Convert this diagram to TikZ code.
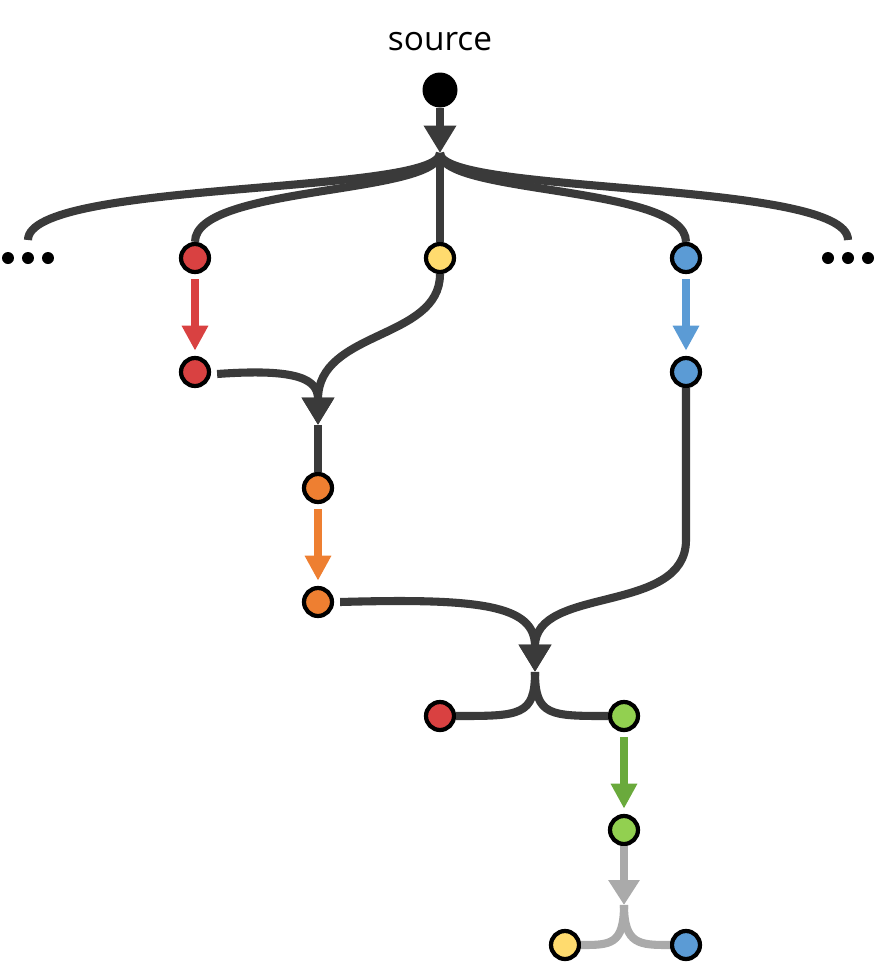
\documentclass[tikz,border=0pt]{standalone}
\usepackage{fontspec}
\setmainfont{Open Sans}
\usetikzlibrary{positioning, arrows.meta}
\definecolor{edgegray}{HTML}{3A3A3A}
\definecolor{cred}{HTML}{D94141}
\definecolor{cyellow}{HTML}{FFDB6E}
\definecolor{cblue}{HTML}{5B9BD5}
\definecolor{corange}{HTML}{EE7F31}
\definecolor{cgreen}{HTML}{92D050}
\definecolor{dgreen}{HTML}{6AAA3C}
\definecolor{lgray}{HTML}{AAAAAA}
\begin{document}
\begin{tikzpicture}[x=0.02cm, y=-0.02cm]
	\tikzstyle{commit} = [ draw=black, circle, line width=2.4pt, minimum size=0.56cm, inner sep=0pt ];
	\tikzstyle{link} = [ draw=edgegray, line width=4.6pt ];
	\tikzstyle{merge} = [ link, -{Triangle[length=0.55cm, width=0.62cm]} ];
	\tikzstyle{step} = [];
	\tikzstyle{pick} = [ line width=4.6pt, -{Triangle[length=0.5cm, width=0.5cm]}, shorten <=3pt, shorten >=3pt ];

	\useasboundingbox (0,0) rectangle (877,964);

	\node[font=\fontsize{19}{22}\selectfont] (label) at (440,42) {source};
	\node[circle, fill=black, minimum size=0.7cm, inner sep=0pt] (src) at (440,90) {};

	% first row
	\node[commit, fill=cred] (r1) at (195,258) {};
	\node[commit, fill=cyellow] (y1) at (440,258) {};
	\node[commit, fill=cblue] (b1) at (686,258) {};
	\coordinate (dl) at (28,240);
	\coordinate (dr) at (848,240);
	\foreach \dx in {-20,0,20} {
		\fill (28+\dx,258) circle (0.12cm);
		\fill (848+\dx,258) circle (0.12cm);
	}

	\node[commit, fill=cred] (r2) at (195,372) {};
	\node[commit, fill=cblue] (b2) at (686,372) {};
	\node[commit, fill=corange] (o1) at (318,488) {};
	\node[commit, fill=corange] (o2) at (318,602) {};
	\node[commit, fill=cred] (r3) at (440,716) {};
	\node[commit, fill=cgreen] (g1) at (624,716) {};
	\node[commit, fill=cgreen] (g2) at (624,830) {};
	\node[commit, fill=cyellow] (y2) at (565,945) {};
	\node[commit, fill=cblue] (b3) at (686,945) {};

	\coordinate (m1) at (440,153);
	\coordinate (m2) at (318,425);
	\coordinate (m3) at (535,672);
	\coordinate (m4) at (624,905);

	% fan out from the source
	\draw[merge] (src) -- (m1);
	\draw[link] (m1) .. controls (440,195) and (28,180) .. (dl);
	\draw[link] (m1) .. controls (440,195) and (195,185) .. (r1);
	\draw[link] (m1) -- (y1);
	\draw[link] (m1) .. controls (440,195) and (686,185) .. (b1);
	\draw[link] (m1) .. controls (440,195) and (848,180) .. (dr);

	% picks
	\draw[pick, cred] (r1) -- (r2);
	\draw[pick, cblue] (b1) -- (b2);
	\draw[pick, corange] (o1) -- (o2);
	\draw[pick, dgreen] (g1) -- (g2);

	% merges
	\draw[merge] (y1) .. controls (440,340) and (318,330) .. (m2);
	\draw[merge] (r2.east) ++(6,2) .. controls (300,368) and (318,380) .. (m2);
	\draw[link] (m2) -- (o1);
	\draw[merge] (o2.east) ++(6,0) .. controls (480,598) and (535,605) .. (m3);
	\draw[merge] (b2) -- (686,540) .. controls (686,615) and (535,585) .. (m3);
	\draw[link] (m3) .. controls (535,716) and (520,716) .. (r3);
	\draw[link] (m3) .. controls (535,716) and (550,716) .. (g1);

	% last step, greyed
	\draw[link, lgray, -{Triangle[length=0.5cm, width=0.6cm]}] (g2) -- (m4);
	\draw[link, lgray] (m4) .. controls (624,945) and (610,945) .. (y2);
	\draw[link, lgray] (m4) .. controls (624,945) and (640,945) .. (b3);
\end{tikzpicture}
\end{document}
